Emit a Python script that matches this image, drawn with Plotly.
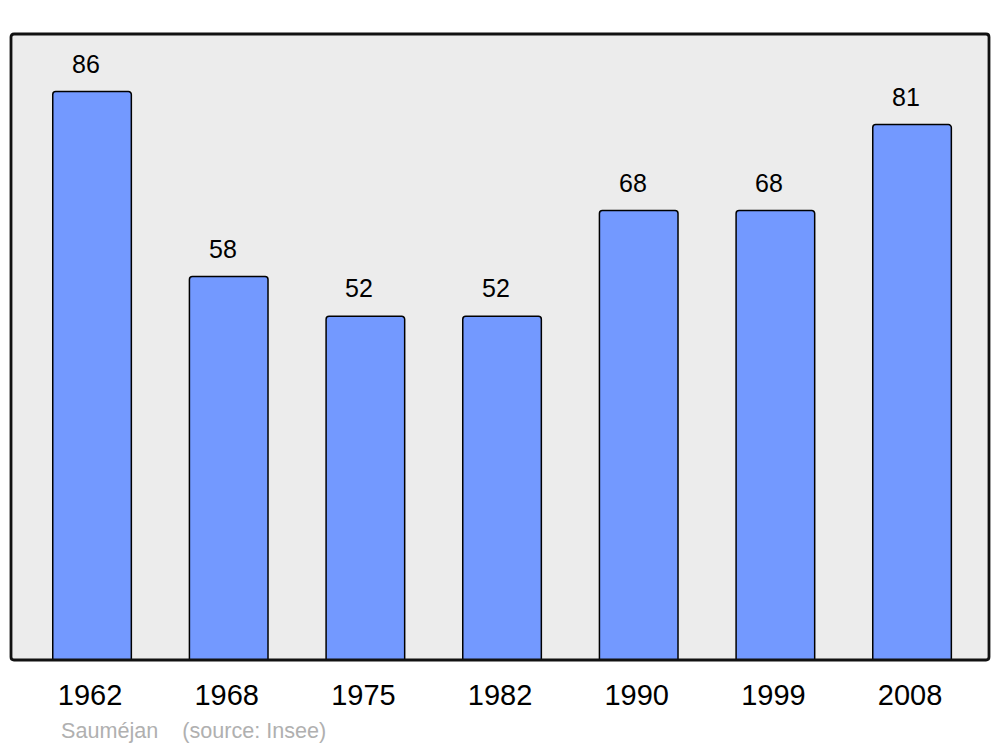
import plotly.graph_objects as go

years = ["1962", "1968", "1975", "1982", "1990", "1999", "2008"]
population = [86, 58, 52, 52, 68, 68, 81]
source_text = "Sauméjan    (source: Insee)"

# page body has an 8px margin; figure is placed at (8, 8)
OFF = 8
W, H = 992, 739
# plot area in page coords: x 11..989, y 34..660
L, T = 11 - OFF, 34 - OFF
R = W - (989 - OFF)
B = H - (660 - OFF)

fig = go.Figure()
fig.add_trace(go.Bar(
    x=list(range(len(years))), y=population,
    width=0.575,
    marker=dict(color="#7399FF", line=dict(color="#000000", width=1.5), cornerradius=3),
    hoverinfo="skip",
))

for i, v in enumerate(population):
    fig.add_annotation(x=i, y=v, text=str(v), showarrow=False, xanchor="center", yanchor="bottom",
                       xshift=-6, yshift=12, font=dict(family="Liberation Sans, Arial", size=25, color="#000"))

# rounded frame
pw, ph = W - L - R, H - T - B
rx, ry = 3 / pw, 3 / ph
path = (f"M {rx},0 L {1-rx},0 Q 1,0 1,{ry} L 1,{1-ry} Q 1,1 {1-rx},1 L {rx},1 Q 0,1 0,{1-ry} "
        f"L 0,{ry} Q 0,0 {rx},0 Z")
fig.add_shape(type="path", path=path, xref="paper", yref="paper",
              line=dict(color="#111111", width=2.8), fillcolor="rgba(0,0,0,0)", layer="above")

fig.add_annotation(xref="paper", yref="paper", text=source_text, showarrow=False,
                   x=(59 - 11) / pw, y=-(730 - 660) / ph, xanchor="left", yanchor="middle",
                   font=dict(family="Liberation Sans, Arial", size=21.6, color="#B0B0B0"))

fig.update_layout(
    width=W, height=H,
    margin=dict(l=L, r=R, t=T, b=B, pad=0),
    paper_bgcolor="#FFFFFF", plot_bgcolor="#ECECEC",
    showlegend=False,
    xaxis=dict(range=[-0.593, 6.563], tickmode="array", tickvals=list(range(len(years))), ticktext=years,
               showgrid=False, zeroline=False, showline=False, ticks="",
               ticklabelstandoff=15, ticklabelshift=-2,
               tickfont=dict(family="Liberation Sans, Arial", size=29, color="#000")),
    yaxis=dict(range=[0, 94.7], showgrid=False, zeroline=False, showticklabels=False, showline=False),
)

fig.write_html("out.html")
